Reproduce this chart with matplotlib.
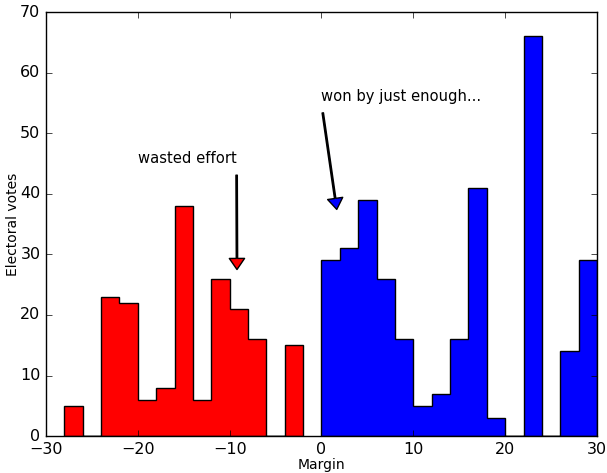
import numpy as np
import matplotlib
matplotlib.use('Agg')
import matplotlib.pyplot as plt

plt.style.use('classic')

# bins of width 2 from -30 to 30
bin_edges = np.arange(-30, 32, 2)
# electoral votes per margin bin (left edge -> votes)
red_margins = [-28, -26, -24, -22, -20, -18, -16, -14, -12, -10, -8, -6, -4]
red_votes = [5, 0, 23, 22, 6, 8, 38, 6, 26, 21, 16, 0, 15]
blue_margins = [0, 2, 4, 6, 8, 10, 12, 14, 16, 18, 20, 22, 24, 26, 28]
blue_votes = [29, 31, 39, 26, 16, 5, 7, 16, 41, 3, 0, 66, 0, 14, 29]

fig = plt.figure(figsize=(6.07, 4.73), dpi=100)
ax = fig.add_axes([0.0758, 0.078, 0.9077, 0.8966])

ax.hist(np.array(red_margins) + 1, bins=bin_edges[1:15], weights=red_votes,
        histtype='stepfilled', facecolor='red', edgecolor='black')
ax.hist(np.array(blue_margins) + 1, bins=bin_edges[15:], weights=blue_votes,
        histtype='stepfilled', facecolor='blue', edgecolor='black')

ax.annotate('wasted effort', xy=(-9.2, 26.6), xytext=(-20, 45),
            arrowprops=dict(facecolor='red', width=1, headwidth=11, headlength=8, shrink=0.05),
            fontsize=10.6)
ax.annotate('won by just enough...', xy=(1.75, 36.5), xytext=(0, 55.3),
            arrowprops=dict(facecolor='blue', width=1, headwidth=11, headlength=8, shrink=0.05),
            fontsize=10.6)

ax.set_xlim(-30, 30)
ax.set_ylim(0, 70)
ax.set_xlabel('Margin', fontsize=10, labelpad=1)
ax.set_ylabel('Electoral votes', fontsize=10, labelpad=0)
ax.tick_params(labelsize=11.5)

fig.savefig('out.png', dpi=100)
